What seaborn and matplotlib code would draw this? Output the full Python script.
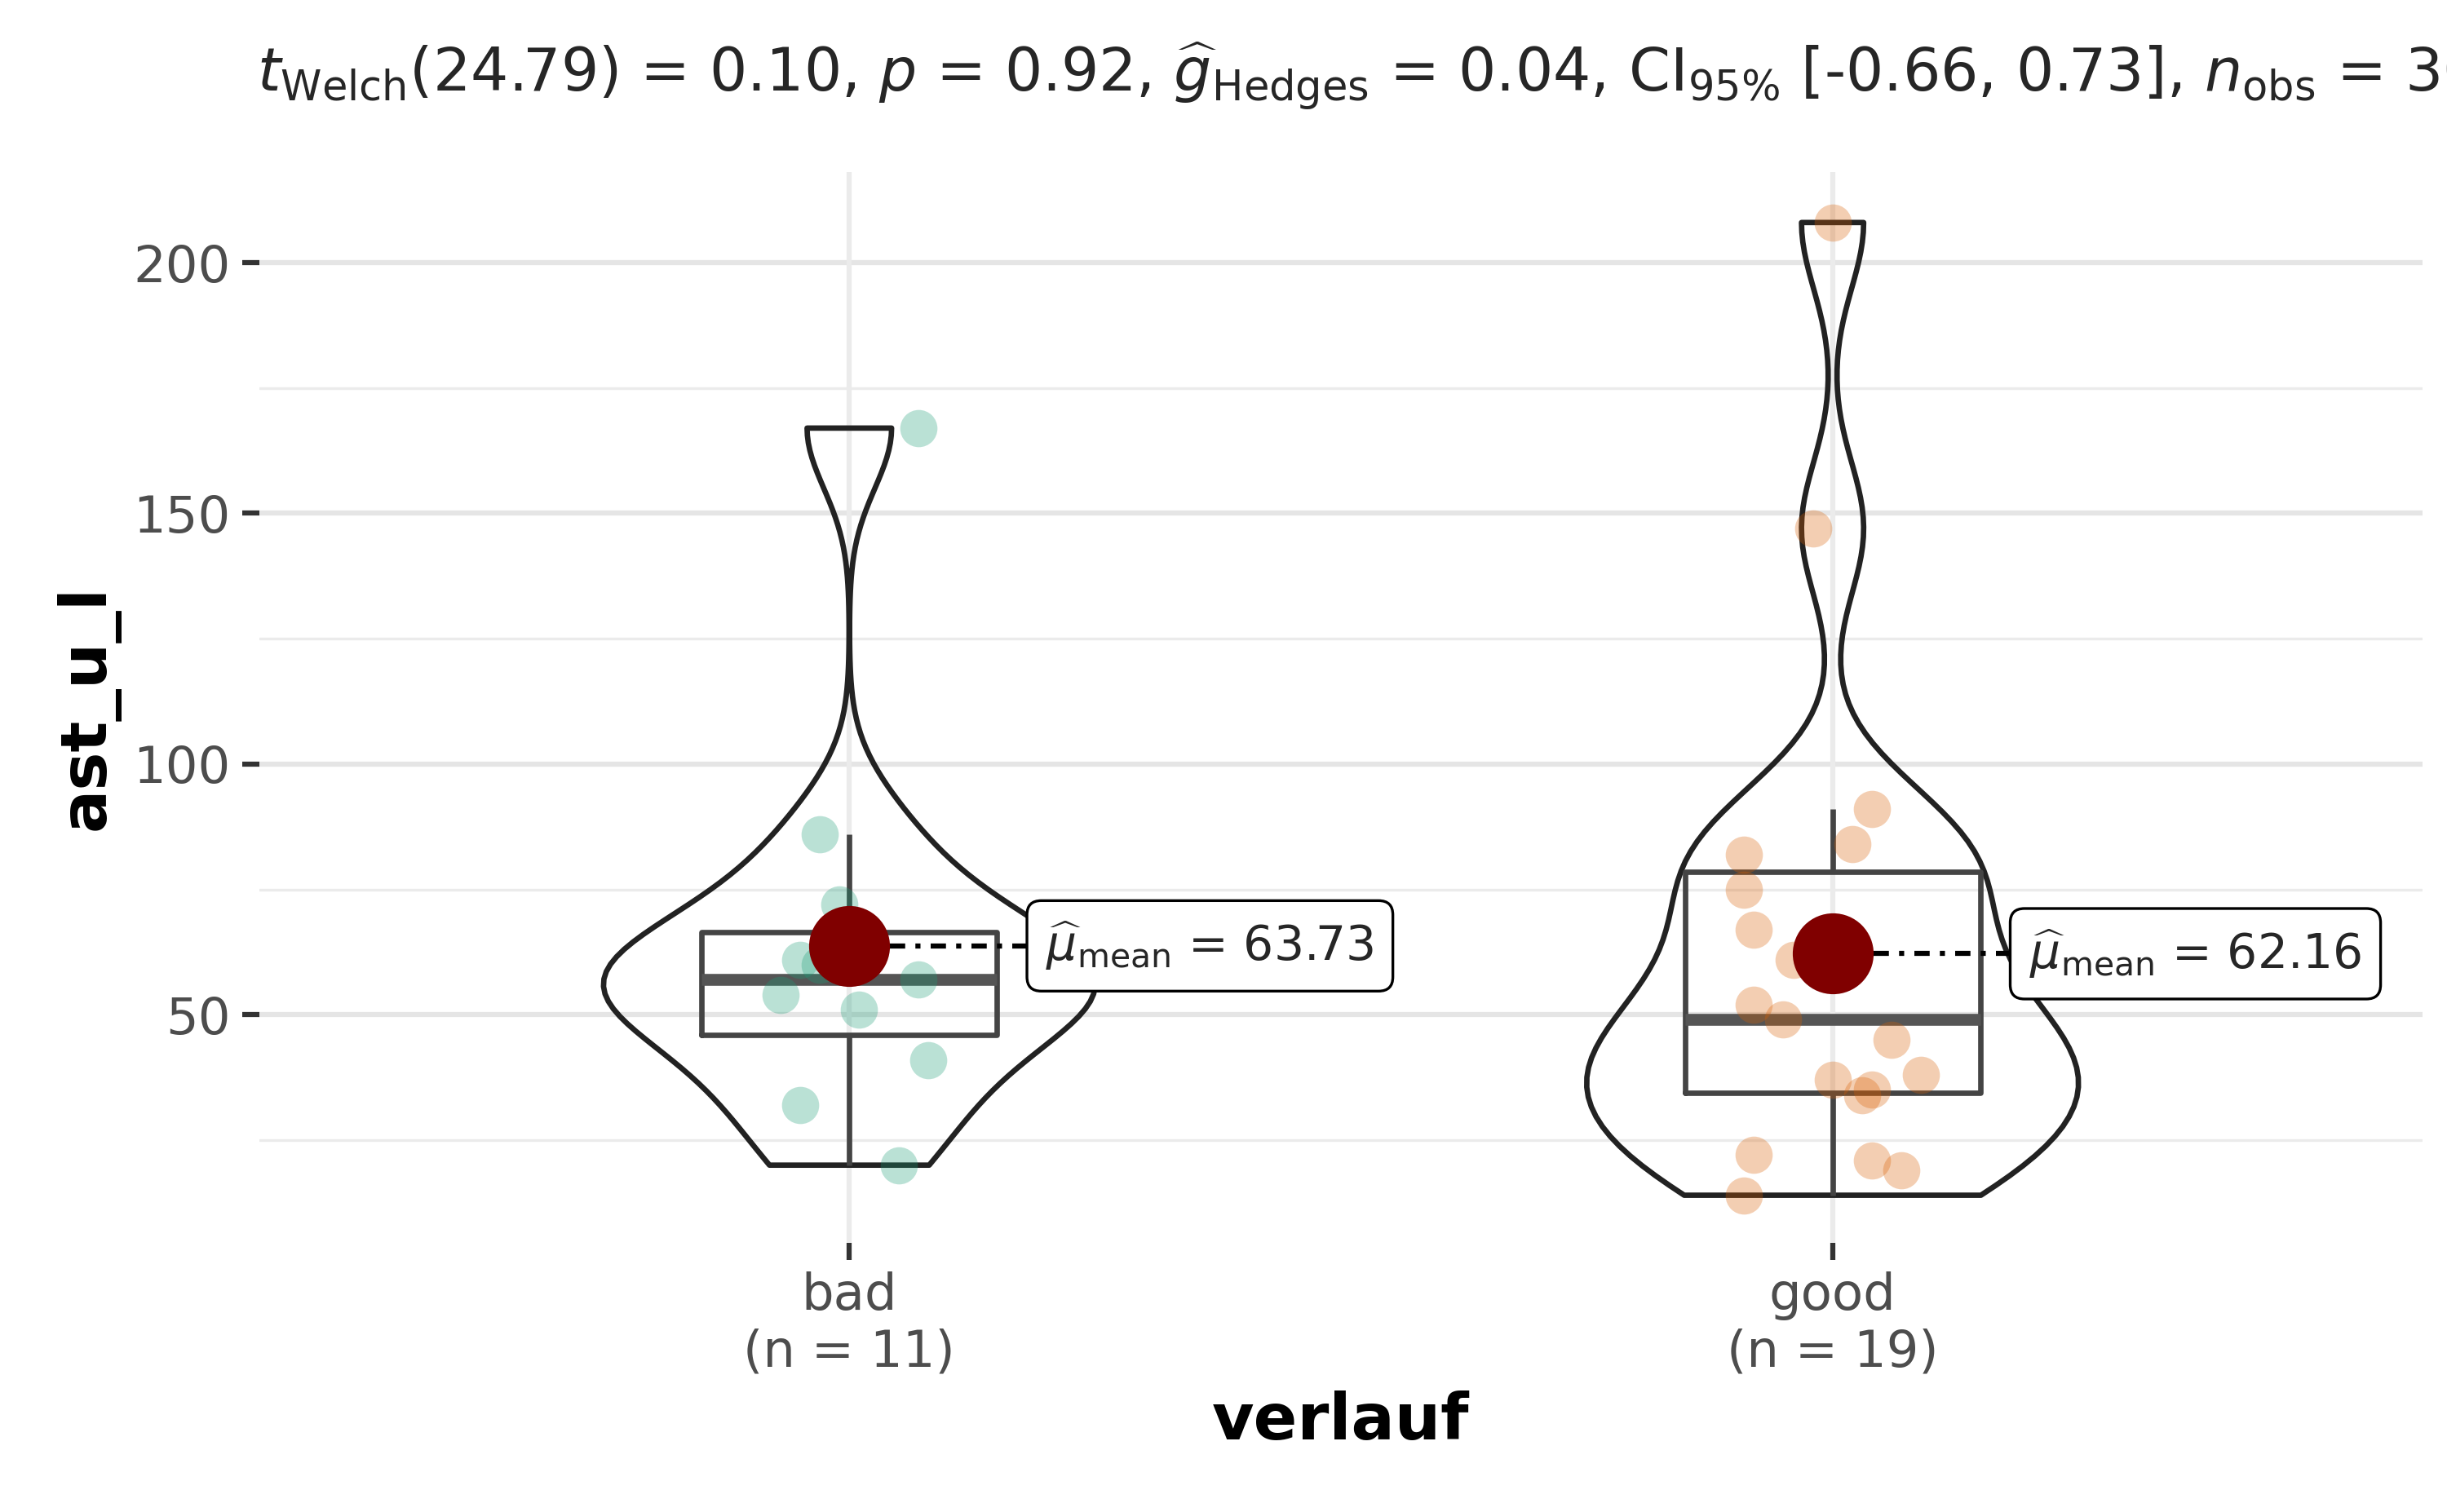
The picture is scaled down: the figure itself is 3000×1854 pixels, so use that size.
import numpy as np
import pandas as pd
import matplotlib
matplotlib.use("Agg")
import matplotlib.pyplot as plt
import seaborn as sns

groups = ["bad", "good"]
counts = [11, 19]
bad_vals = [167, 86, 72, 61, 60, 57, 54, 51, 41, 32, 20]
bad_jit = [0.07, -0.03, -0.01, -0.05, -0.03, 0.07, -0.07, 0.01, 0.08, -0.05, 0.05]
good_vals = [208, 147, 91, 84, 82, 75, 67, 61, 52, 49, 45, 38, 37, 35, 34, 22, 21, 19, 14]
good_jit = [0.0, -0.02, 0.04, 0.02, -0.09, -0.09, -0.08, -0.04, -0.08, -0.05, 0.06, 0.09,
            0.0, 0.04, 0.03, -0.08, 0.04, 0.07, -0.09]
means = [63.73, 62.16]
pal = ["#1B9E77", "#D95F02"]

df = pd.DataFrame({
    "verlauf": ["bad"] * len(bad_vals) + ["good"] * len(good_vals),
    "ast_u_l": bad_vals + good_vals,
})

sns.set_theme(style="white")
plt.rcParams["font.family"] = ["DejaVu Sans"]
plt.rcParams["mathtext.fontset"] = "dejavusans"

fig = plt.figure(figsize=(10, 6.18), dpi=300)
ax = fig.add_axes([0.106, 0.178, 0.884, 0.708])

for y in [25, 75, 125, 175]:
    ax.axhline(y, color="#EBEBEB", lw=0.8, zorder=0)
for y in [50, 100, 150, 200]:
    ax.axhline(y, color="#E5E5E5", lw=1.5, zorder=0)
for x in [0, 1]:
    ax.axvline(x, color="#EBEBEB", lw=1.5, zorder=0)

sns.violinplot(data=df, x="verlauf", y="ast_u_l", order=groups, cut=0, inner=None,
               fill=False, color="#222222", linewidth=1.6, width=0.5, bw_adjust=0.5,
               density_norm="width", ax=ax, zorder=2)
sns.boxplot(data=df, x="verlauf", y="ast_u_l", order=groups, width=0.3, fill=False,
            color="#444444", linewidth=1.6, showfliers=False, showcaps=False, ax=ax, zorder=3,
            medianprops={"linewidth": 3.5, "color": "#555555"})

for i, (vals, jit) in enumerate([(bad_vals, bad_jit), (good_vals, good_jit)]):
    ax.scatter(np.array(jit) + i, vals, s=120, color=pal[i], alpha=0.3, lw=0, zorder=4)
    ax.scatter([i], [means[i]], s=520, color="#800000", zorder=6)
    ax.plot([i, i + 0.2], [means[i], means[i]], ls=(0, (3, 2, 1, 2)), color="black", lw=1.5, zorder=5)
    ax.text(i + 0.2, means[i], r"$\widehat{\mu}_{\mathrm{mean}}$ = %.2f" % means[i], fontsize=14,
            va="center", ha="left", zorder=7,
            bbox=dict(boxstyle="round,pad=0.4,rounding_size=0.3", fc="white", ec="black", lw=0.8))

ax.set_xlim(-0.6, 1.6)
ax.set_ylim(4.5, 218)
ax.set_yticks([50, 100, 150, 200])
ax.set_xticks([0, 1])
ax.set_xticklabels([f"{g}\n(n = {n})" for g, n in zip(groups, counts)])
ax.tick_params(axis="both", labelsize=15, labelcolor="#4D4D4D", length=5, width=1.5,
               color="#333333", left=True, bottom=True)
for s in ax.spines.values():
    s.set_visible(False)
ax.set_xlabel("verlauf", fontsize=19, fontweight="bold", color="black")
ax.set_ylabel("ast_u_l", fontsize=19, fontweight="bold", color="black")
fig.text(0.105, 0.95,
         r"$t_{\mathrm{Welch}}$(24.79) = 0.10, $p$ = 0.92, $\widehat{g}_{\mathrm{Hedges}}$ = 0.04, "
         r"CI$_{95\%}$ [-0.66, 0.73], $n_{\mathrm{obs}}$ = 30", fontsize=17.5, ha="left", va="center")

fig.savefig("out.png", dpi=300)
